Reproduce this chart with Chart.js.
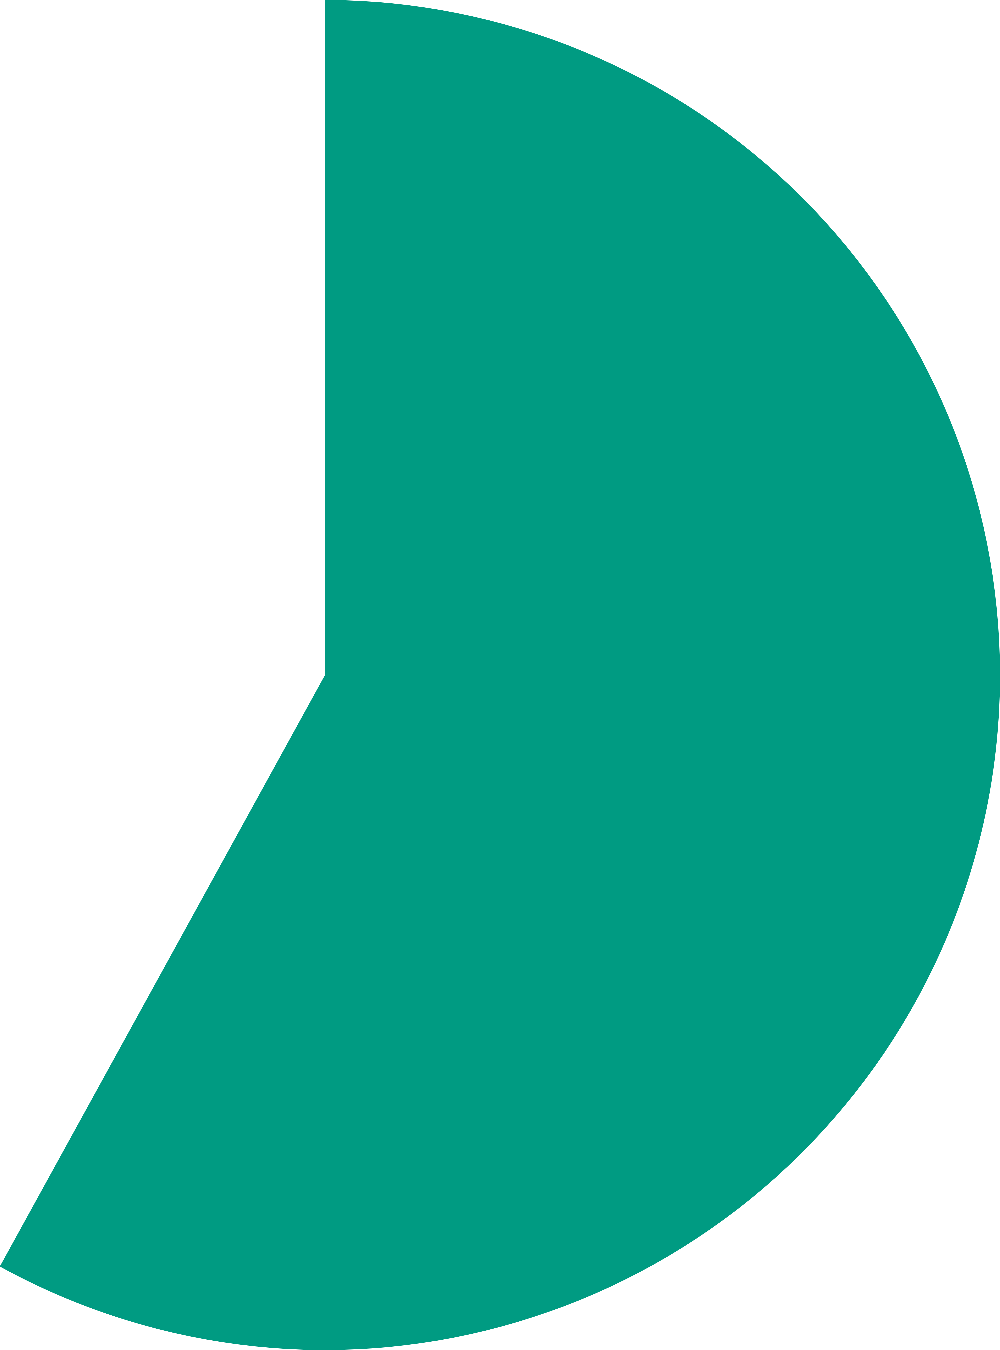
<!DOCTYPE html>
<html>
<head>
<meta charset="utf-8">
<script src="https://cdn.jsdelivr.net/npm/chart.js@4"></script>
<style>
  html, body { margin: 0; padding: 0; background: #ffffff; overflow: hidden; }
  #wrap { position: absolute; left: -350px; top: 0; width: 1350px; height: 1350px; }
</style>
</head>
<body>
<div id="wrap"><canvas id="pieChart" width="1350" height="1350"></canvas></div>
<script>
// Slice values (share of the whole, in %)
const labels = ['Share', 'Rest'];
const values = [58, 42];
const colors = ['#009B82', 'rgba(255,255,255,0)'];

const ctx = document.getElementById('pieChart').getContext('2d');
new Chart(ctx, {
  type: 'pie',
  data: {
    labels: labels,
    datasets: [{
      data: values,
      backgroundColor: colors,
      borderWidth: 0
    }]
  },
  options: {
    responsive: false,
    animation: false,
    devicePixelRatio: 3, // smoother arc edge
    layout: { padding: 0 },
    plugins: {
      legend: { display: false },
      tooltip: { enabled: false }
    }
  }
});
</script>
</body>
</html>
